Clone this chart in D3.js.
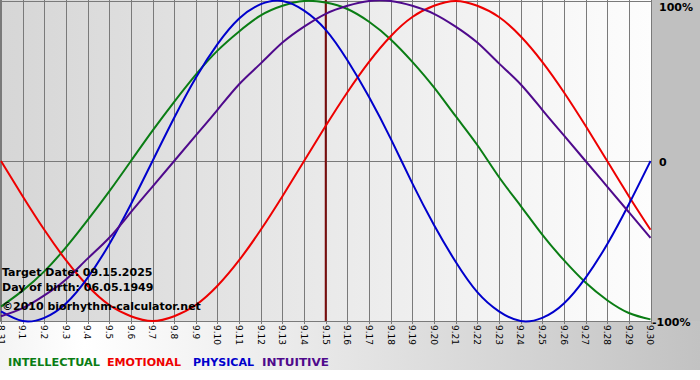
<!DOCTYPE html>
<html><head><meta charset="utf-8">
<script src="https://cdn.jsdelivr.net/npm/d3@7"></script>
<style>html,body{margin:0;padding:0;background:#fff;}svg{display:block;}</style>
</head><body>
<script>
const dayLabels = ["8.31","9.1","9.2","9.3","9.4","9.5","9.6","9.7","9.8","9.9","9.10","9.11","9.12","9.13","9.14","9.15","9.16","9.17","9.18","9.19","9.20","9.21","9.22","9.23","9.24","9.25","9.26","9.27","9.28","9.29","9.30"];
const intellectual = [-0.91,-0.81,-0.69,-0.54,-0.37,-0.19,0.00,0.19,0.37,0.54,0.69,0.81,0.91,0.97,1.00,0.99,0.95,0.87,0.76,0.62,0.46,0.28,0.10,-0.10,-0.28,-0.46,-0.62,-0.76,-0.87,-0.95,-0.99];
const emotional = [0.00,-0.22,-0.43,-0.62,-0.78,-0.90,-0.97,-1.00,-0.97,-0.90,-0.78,-0.62,-0.43,-0.22,0.00,0.22,0.43,0.62,0.78,0.90,0.97,1.00,0.97,0.90,0.78,0.62,0.43,0.22,0.00,-0.22,-0.43];
const physical = [-0.94,-1.00,-0.98,-0.89,-0.73,-0.52,-0.27,0.00,0.27,0.52,0.73,0.89,0.98,1.00,0.94,0.82,0.63,0.40,0.14,-0.14,-0.40,-0.63,-0.82,-0.94,-1.00,-0.98,-0.89,-0.73,-0.52,-0.27,0.00];
const intuitive = [-0.97,-0.92,-0.84,-0.74,-0.61,-0.48,-0.32,-0.16,0.00,0.16,0.32,0.48,0.61,0.74,0.84,0.92,0.97,1.00,1.00,0.97,0.92,0.84,0.74,0.61,0.48,0.32,0.16,0.00,-0.16,-0.32,-0.48];
const targetIndex = 15;
const yTicks = [{v:1,t:"100%"},{v:0,t:"0"},{v:-1,t:"-100%"}];
const infoLines = ["Target Date: 09.15.2025","Day of birth: 06.05.1949","©2010 biorhythm-calculator.net"];
const legendNames = ["INTELLECTUAL","EMOTIONAL","PHYSICAL","INTUITIVE"];

const W=700,H=380;
const svg=d3.select("body").append("svg").attr("width",W).attr("height",H);
const defs=svg.append("defs");
const g1=defs.append("linearGradient").attr("id","plotbg").attr("x1","0").attr("x2","1").attr("y1","0").attr("y2","0");
g1.append("stop").attr("offset","0").attr("stop-color","#d6d6d6");
g1.append("stop").attr("offset","1").attr("stop-color","#fdfdfd");
const g2=defs.append("linearGradient").attr("id","botbg").attr("x1","0").attr("x2","1").attr("y1","0").attr("y2","0");
g2.append("stop").attr("offset","0").attr("stop-color","#f4f4f4");
g2.append("stop").attr("offset","0.12").attr("stop-color","#ffffff");
g2.append("stop").attr("offset","1").attr("stop-color","#c2c2c2");

const x=d3.scaleLinear().domain([0,dayLabels.length-1]).range([1,650.5]);
const y=d3.scaleLinear().domain([-1,1]).range([321,1]);

// backgrounds
svg.append("rect").attr("x",0).attr("y",321).attr("width",W).attr("height",49).attr("fill","url(#botbg)");
svg.append("rect").attr("x",651).attr("y",0).attr("width",49).attr("height",321).attr("fill","#c0c0c0");
svg.append("rect").attr("x",0).attr("y",0).attr("width",651).attr("height",321).attr("fill","url(#plotbg)");

// vertical grid
svg.append("g").selectAll("line").data(dayLabels).join("line")
  .attr("x1",(d,i)=>Math.round(x(i))+0.5).attr("x2",(d,i)=>Math.round(x(i))+0.5)
  .attr("y1",0).attr("y2",324).attr("stroke","#7a7a7a").attr("stroke-width",1);
// horizontal lines
svg.append("g").selectAll("line").data(yTicks).join("line")
  .attr("x1",0).attr("x2",651).attr("y1",d=>Math.round(y(d.v))+0.5).attr("y2",d=>Math.round(y(d.v))+0.5)
  .attr("stroke","#7a7a7a").attr("stroke-width",1);
svg.append("line").attr("x1",0.5).attr("x2",0.5).attr("y1",0).attr("y2",321).attr("stroke","#7a7a7a");

// x labels
svg.append("g").selectAll("text").data(dayLabels).join("text")
  .attr("transform",(d,i)=>`translate(${x(i)},325) rotate(90)`)
  .attr("dy","0.35em").attr("font-family","DejaVu Sans, Verdana, sans-serif").attr("font-size",9)
  .attr("fill","#000").text(d=>d);

// right labels
svg.append("g").selectAll("text").data(yTicks).join("text")
  .attr("x",d=>d.v<0?652:659).attr("y",d=>d.v>0?y(d.v)+10:y(d.v)+5)
  .attr("font-family","DejaVu Sans, Verdana, sans-serif").attr("font-weight","bold").attr("font-size",11)
  .attr("fill","#000").text(d=>d.t);

// target line
svg.append("line").attr("x1",x(targetIndex)).attr("x2",x(targetIndex)).attr("y1",0).attr("y2",321)
  .attr("stroke","#7a0c0c").attr("stroke-width",2);

const series=[
  {name:"INTELLECTUAL",vals:intellectual,color:"#0a7d14"},
  {name:"EMOTIONAL",vals:emotional,color:"#ee0000"},
  {name:"PHYSICAL",vals:physical,color:"#0000cc"},
  {name:"INTUITIVE",vals:intuitive,color:"#4f0a8c"}
];
const line=d3.line().x((d,i)=>x(i)).y(d=>y(d)).curve(d3.curveNatural);
svg.append("g").selectAll("path").data(series).join("path")
  .attr("d",d=>line(d.vals)).attr("fill","none").attr("stroke",d=>d.color).attr("stroke-width",2);

// info text
svg.append("g").selectAll("text").data(infoLines).join("text")
  .attr("x",2).attr("y",(d,i)=>[276,291,310][i])
  .attr("font-family","DejaVu Sans, Verdana, sans-serif").attr("font-weight","bold").attr("font-size",11)
  .attr("fill","#000").text(d=>d);

// legend
const legX=[8,107,193,262];
const legW=[92,74,61,67];
svg.append("g").selectAll("text").data(series).join("text")
  .attr("x",(d,i)=>legX[i]).attr("y",366).attr("textLength",(d,i)=>legW[i]).attr("lengthAdjust","spacingAndGlyphs")
  .attr("font-family","DejaVu Sans, Verdana, sans-serif").attr("font-weight","bold").attr("font-size",11)
  .attr("fill",d=>d.color).text((d,i)=>legendNames[i]);
</script>
</body></html>
